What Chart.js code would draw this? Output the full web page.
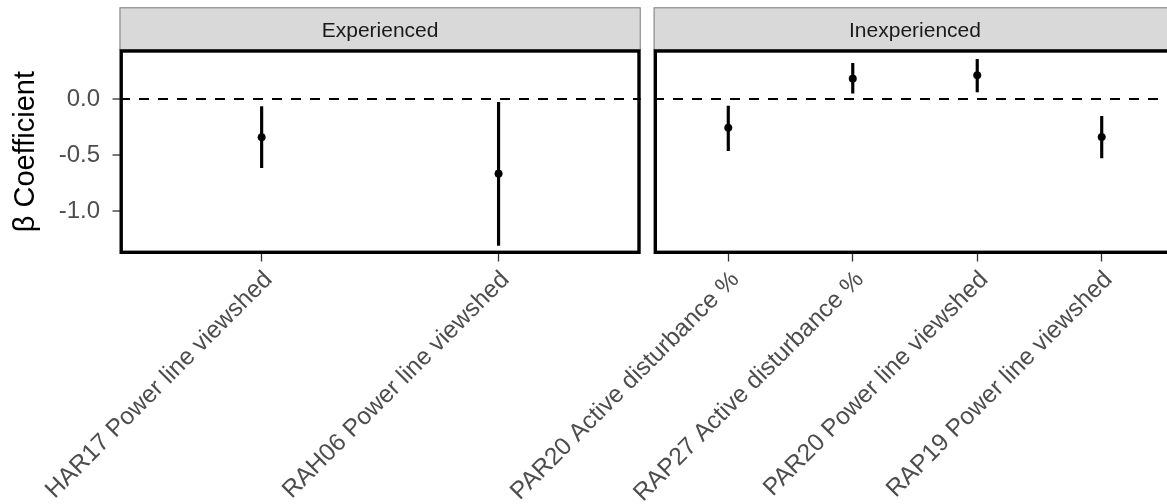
<!DOCTYPE html>
<html>
<head>
<meta charset="utf-8">
<title>β Coefficient by experience</title>
<script src="https://cdn.jsdelivr.net/npm/chart.js@4/dist/chart.umd.min.js"></script>
<style>
  html, body { margin: 0; padding: 0; background: #fff; overflow: hidden; width: 1167px; height: 504px; }
  #wrap { position: relative; width: 1167px; height: 504px; overflow: hidden; }
  canvas { position: absolute; top: 0; }
  #panelLeft { left: 0; }
  #panelRight { left: 300px; }
</style>
</head>
<body>
<div id="wrap">
  <canvas id="panelLeft" width="648" height="504"></canvas>
  <canvas id="panelRight" width="900" height="504"></canvas>
</div>
<script>
// ---- data ----
const facetTitles = ['Experienced', 'Inexperienced'];

const categoriesExperienced = ['HAR17 Power line viewshed', 'RAH06 Power line viewshed'];
const estimatesExperienced  = [-0.339, -0.664];
const lowerExperienced      = [-0.611, -1.304];
const upperExperienced      = [-0.066, -0.027];

const categoriesInexperienced = ['PAR20 Active disturbance %', 'RAP27 Active disturbance %',
                                 'PAR20 Power line viewshed', 'RAP19 Power line viewshed'];
const estimatesInexperienced  = [-0.254, 0.184, 0.214, -0.337];
const lowerInexperienced      = [-0.459, 0.054, 0.065, -0.524];
const upperInexperienced      = [-0.060, 0.321, 0.357, -0.152];

const yTickValues = [-1.0, -0.5, 0.0];
const yAxisTitle = 'β Coefficient';

// ---- appearance ----
const FONT = '"Liberation Sans", Arial, Helvetica, sans-serif';
Chart.defaults.font.family = FONT;

const Y_MIN = -1.381;
const Y_MAX = 0.446;
const STRIP_TOP = 7.3;

// facet strip above the panel and thick frame around it
const facetPlugin = {
  id: 'facet',
  beforeDraw(chart, args, opts) {
    const a = chart.chartArea;
    const ctx = chart.ctx;
    ctx.save();
    ctx.fillStyle = '#D9D9D9';
    ctx.fillRect(a.left, STRIP_TOP, a.right - a.left, a.top - STRIP_TOP);
    ctx.strokeStyle = '#7F7F7F';
    ctx.lineWidth = 1;
    ctx.strokeRect(a.left + 0.5, STRIP_TOP + 0.5, a.right - a.left - 1, a.top - STRIP_TOP);
    ctx.fillStyle = '#1A1A1A';
    ctx.font = '21px ' + FONT;
    ctx.textAlign = 'center';
    ctx.textBaseline = 'alphabetic';
    ctx.fillText(opts.text, (a.left + a.right) / 2, STRIP_TOP + 29.4);
    ctx.restore();
  },
  afterDraw(chart) {
    const a = chart.chartArea;
    const ctx = chart.ctx;
    ctx.save();
    ctx.strokeStyle = '#000';
    ctx.lineWidth = 3.4;
    ctx.strokeRect(a.left + 1.7, a.top + 1.7, a.right - a.left - 3.4, a.bottom - a.top - 3.4);
    ctx.restore();
  }
};

function buildPanel(canvasId, title, cats, est, lo, hi, cfg) {
  const positions = cats.map((_, i) => i + 1);
  return new Chart(document.getElementById(canvasId), {
    type: 'bar',
    data: {
      datasets: [
        {
          // confidence interval drawn as a thin floating bar
          type: 'bar',
          data: positions.map((x, i) => ({ x: x, y: [lo[i], hi[i]] })),
          backgroundColor: '#000',
          borderWidth: 0,
          barThickness: 2.5,
          order: 2
        },
        {
          type: 'scatter',
          data: positions.map((x, i) => ({ x: x, y: est[i] })),
          pointRadius: 3.8,
          pointBackgroundColor: '#000',
          pointBorderColor: '#000',
          pointBorderWidth: 0.5,
          order: 1
        }
      ]
    },
    options: {
      responsive: false,
      animation: false,
      devicePixelRatio: 1,
      layout: { padding: { top: 49.3, right: cfg.padRight, left: 0, bottom: 0 } },
      plugins: {
        legend: { display: false },
        tooltip: { enabled: false },
        title: { display: false },
        facet: { text: title }
      },
      scales: {
        x: {
          type: 'linear',
          min: 0.4,
          max: cats.length + 0.6,
          offset: false,
          afterBuildTicks: s => { s.ticks = positions.map(v => ({ value: v })); },
          afterFit: s => { s.height = 250; },
          grid: { offset: false, drawOnChartArea: false, drawTicks: true, tickLength: 7.5, tickColor: '#333', tickWidth: 1.3 },
          border: { display: false },
          ticks: {
            autoSkip: false,
            maxRotation: 45,
            minRotation: 45,
            padding: 4,
            labelOffset: 7,
            color: '#4D4D4D',
            font: { size: 24.5 },
            callback: v => cats[Math.round(v) - 1]
          }
        },
        y: {
          type: 'linear',
          min: Y_MIN,
          max: Y_MAX,
          afterBuildTicks: s => { s.ticks = yTickValues.map(v => ({ value: v })); },
          afterFit: s => { s.width = cfg.axisWidth; },
          grid: {
            color: c => (c.tick && c.tick.value === 0) ? '#000' : 'rgba(0,0,0,0)',
            lineWidth: 2,
            drawTicks: cfg.showY,
            tickLength: 7,
            tickColor: '#333',
            tickWidth: 1.3
          },
          border: { display: false, dash: [10, 9] },
          ticks: {
            display: cfg.showY,
            padding: 12.5,
            color: '#4D4D4D',
            font: { size: 24 },
            callback: v => v.toFixed(1)
          },
          title: {
            display: cfg.showY,
            text: yAxisTitle,
            color: '#000',
            font: { size: 29 },
            padding: { top: 9, bottom: 0 }
          }
        }
      }
    },
    plugins: [facetPlugin]
  });
}

buildPanel('panelLeft', facetTitles[0], categoriesExperienced, estimatesExperienced,
           lowerExperienced, upperExperienced, { axisWidth: 119.5, padRight: 7.3, showY: true });
buildPanel('panelRight', facetTitles[1], categoriesInexperienced, estimatesInexperienced,
           lowerInexperienced, upperInexperienced, { axisWidth: 353.6, padRight: 23.6, showY: false });
</script>
</body>
</html>
